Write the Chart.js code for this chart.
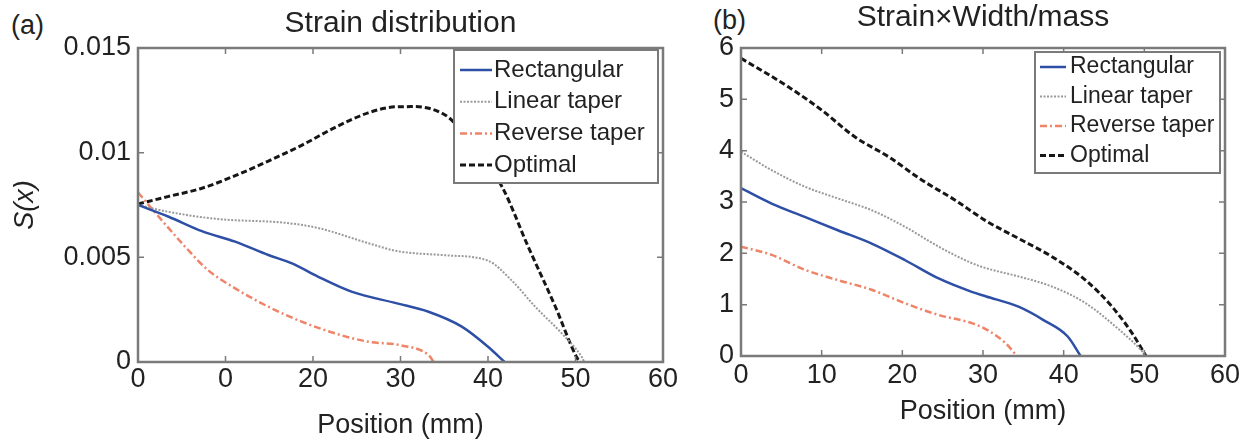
<!DOCTYPE html>
<html>
<head>
<meta charset="utf-8">
<script src="https://cdn.jsdelivr.net/npm/chart.js@4.4.1/dist/chart.umd.min.js"></script>
<style>
  html, body { margin: 0; padding: 0; background: #fff; }
  body { width: 1253px; height: 444px; position: relative; overflow: hidden; font-family: "Liberation Sans", Arial, sans-serif; }
  .panel { position: absolute; top: 0; height: 444px; }
  .tag { position: absolute; font-size: 27px; color: #222; line-height: 1; }
</style>
</head>
<body>
<div class="tag" style="left:11px; top:12px;">(a)</div>
<div class="tag" style="left:713px; top:7px;">(b)</div>
<div class="panel" style="left:0; width:680px;"><canvas id="chartA"></canvas></div>
<div class="panel" style="left:690px; width:563px;"><canvas id="chartB"></canvas></div>

<script>
// ---- data ----
const seriesNames = ["Rectangular", "Linear taper", "Reverse taper", "Optimal"];

// (a) strain distribution S(x)
const rectPosA = [0, 3.5, 7.3, 11.1, 14.9, 17.6, 20.6, 24.4, 29.6, 33.2, 37, 40, 41.9];
const rectStrainA = [0.0075, 0.00694, 0.00625, 0.00575, 0.00511, 0.00471, 0.00407, 0.00336, 0.0028, 0.0024, 0.00169, 0.00073, 0];
const linPosA = [0, 3.4, 9.1, 16.8, 20.6, 26.3, 29.6, 35.1, 40, 42.7, 45.4, 48.4, 50.7, 51];
const linStrainA = [0.0075, 0.00718, 0.00683, 0.00665, 0.0064, 0.00568, 0.0053, 0.0051, 0.00484, 0.0039, 0.00264, 0.00138, 0.00025, 0];
const revPosA = [0, 2.7, 5.4, 8.0, 11.1, 14.9, 18.7, 22.5, 26.3, 30, 33.2, 33.8];
const revStrainA = [0.0081, 0.00678, 0.0055, 0.00439, 0.00352, 0.00264, 0.00193, 0.00137, 0.00097, 0.0008, 0.00033, 0];
const optPosA = [0, 3.4, 7.3, 11.1, 14.9, 18.7, 22.5, 26.3, 29.4, 31.7, 35.1, 36.2, 41.6, 44.6, 47.7, 50.1, 50.5];
const optStrainA = [0.00755, 0.0079, 0.0083, 0.0089, 0.0096, 0.01035, 0.0112, 0.0119, 0.01219, 0.0122, 0.0118, 0.0114, 0.00837, 0.0055, 0.00264, 0.00025, 0];

// (b) strain x width / mass
const rectPosB = [0, 3.8, 7.9, 12, 16.2, 20.3, 24.5, 28.6, 30.4, 34.4, 37.5, 40.5, 42.1];
const rectValB = [3.27, 2.97, 2.71, 2.45, 2.19, 1.87, 1.51, 1.25, 1.16, 0.96, 0.7, 0.38, 0];
const linPosB = [0, 3.8, 7.9, 12, 16.2, 20.3, 24.5, 28.6, 30.4, 34.4, 38.6, 42.7, 46.9, 49.8, 50.2];
const linValB = [3.98, 3.62, 3.3, 3.07, 2.84, 2.52, 2.13, 1.81, 1.71, 1.55, 1.35, 1.03, 0.51, 0.08, 0];
const revPosB = [0, 3.8, 7.9, 12, 16.2, 20.3, 24.5, 28.6, 30.5, 32.8, 34.2];
const revValB = [2.13, 1.97, 1.68, 1.48, 1.29, 1.03, 0.8, 0.64, 0.51, 0.25, 0];
const optPosB = [0, 5.8, 10, 14.1, 18.3, 22.4, 26.5, 30.4, 34.4, 38.6, 42.7, 46, 48.5, 50.2];
const optValB = [5.8, 5.25, 4.79, 4.27, 3.88, 3.43, 3.04, 2.63, 2.29, 1.93, 1.48, 0.96, 0.44, 0];

// tick labels (the reference really prints "0" under 10 in panel a)
const xTickLabelsA = ["0", "0", "20", "30", "40", "50", "60"];
const xTickLabelsB = ["0", "10", "20", "30", "40", "50", "60"];
const yTickLabelsA = ["0", "0.005", "0.01", "0.015"];
const yTickLabelsB = ["0", "1", "2", "3", "4", "5", "6"];

// ---- styling ----
const FONT = '"Liberation Sans", Arial, sans-serif';
Chart.defaults.font.family = FONT;
Chart.defaults.color = "#222";

const lineStyles = [
  { borderColor: "#2d4fa6", borderWidth: 2.5, borderDash: [] },
  { borderColor: "#9a9a9a", borderWidth: 2, borderDash: [2, 1.5] },
  { borderColor: "#ee8468", borderWidth: 2.5, borderDash: [7, 3, 2, 3] },
  { borderColor: "#161616", borderWidth: 3, borderDash: [6, 3] },
];

const toPoints = (xs, ys) => xs.map((x, i) => ({ x: x, y: ys[i] }));

function buildDatasets(pairs) {
  return pairs.map(([xs, ys], i) => ({
    label: seriesNames[i],
    data: toPoints(xs, ys),
    pointRadius: 0,
    fill: false,
    cubicInterpolationMode: "monotone",
    ...lineStyles[i],
  }));
}

// matlab style frame: box on all four sides with ticks pointing inwards
const matlabBox = {
  id: "matlabBox",
  afterDatasetsDraw(chart) {
    const { ctx, chartArea: a, scales } = chart;
    const len = 6;
    ctx.save();
    ctx.strokeStyle = "#7a7a7a";
    ctx.lineWidth = 1.5;
    ctx.beginPath();
    scales.x.ticks.forEach(t => {
      const px = scales.x.getPixelForValue(t.value);
      ctx.moveTo(px, a.bottom); ctx.lineTo(px, a.bottom - len);
      ctx.moveTo(px, a.top); ctx.lineTo(px, a.top + len);
    });
    scales.y.ticks.forEach(t => {
      const py = scales.y.getPixelForValue(t.value);
      ctx.moveTo(a.left, py); ctx.lineTo(a.left + len, py);
      ctx.moveTo(a.right, py); ctx.lineTo(a.right - len, py);
    });
    ctx.stroke();
    ctx.lineWidth = 2.5;
    ctx.strokeRect(a.left, a.top, a.right - a.left, a.bottom - a.top);
    ctx.restore();
  },
};

// legend drawn inside the plot, with white fill and grey frame
const boxLegend = {
  id: "boxLegend",
  afterDraw(chart, args, opts) {
    const { ctx } = chart;
    ctx.save();
    ctx.fillStyle = "#fff";
    ctx.fillRect(opts.x, opts.y, opts.w, opts.h);
    ctx.strokeStyle = "#7a7a7a";
    ctx.lineWidth = 2;
    ctx.strokeRect(opts.x, opts.y, opts.w, opts.h);
    ctx.font = opts.fontSize + "px " + FONT;
    ctx.textBaseline = "middle";
    chart.data.datasets.forEach((ds, i) => {
      const y = opts.rowY + i * opts.rowGap;
      ctx.strokeStyle = ds.borderColor;
      ctx.lineWidth = ds.borderWidth;
      ctx.setLineDash(ds.borderDash || []);
      ctx.beginPath();
      ctx.moveTo(opts.sampleX0, y);
      ctx.lineTo(opts.sampleX1, y);
      ctx.stroke();
      ctx.setLineDash([]);
      ctx.fillStyle = "#222";
      ctx.fillText(ds.label, opts.textX, y);
    });
    ctx.restore();
  },
};

function makeChart(id, cfg) {
  return new Chart(document.getElementById(id), {
    type: "line",
    data: { datasets: buildDatasets(cfg.pairs) },
    options: {
      responsive: true,
      maintainAspectRatio: false,
      animation: false,
      layout: { padding: { left: 0, top: 0, bottom: 0, right: cfg.padRight } },
      plugins: {
        legend: { display: false },
        tooltip: { enabled: false },
        title: {
          display: true,
          text: cfg.title,
          fullSize: false,
          color: "#222",
          font: { size: 30, weight: "normal", lineHeight: 1.2 },
          padding: cfg.titlePad,
        },
        boxLegend: cfg.legend,
      },
      scales: {
        x: {
          type: "linear",
          min: 0,
          max: 60,
          grid: { display: false, drawTicks: false },
          border: { display: false },
          ticks: {
            stepSize: 10,
            autoSkip: false,
            maxRotation: 0,
            padding: cfg.xTickPad,
            color: "#222",
            font: { size: 27 },
            callback: (v, i) => cfg.xLabels[i],
          },
          title: {
            display: true,
            text: "Position (mm)",
            color: "#222",
            font: { size: 27, lineHeight: 1.2 },
            padding: { top: 0, bottom: cfg.xTitlePad },
          },
          afterFit: s => { s.height = cfg.xHeight; s.paddingLeft = 0; s.paddingRight = 0; },
        },
        y: {
          type: "linear",
          min: 0,
          max: cfg.yMax,
          grid: { display: false, drawTicks: false },
          border: { display: false },
          ticks: {
            stepSize: cfg.yStep,
            autoSkip: false,
            padding: 7,
            color: "#222",
            font: { size: 27 },
            callback: (v, i) => cfg.yLabels[i],
          },
          title: cfg.yTitle,
          afterFit: s => { s.width = cfg.yWidth; s.paddingTop = 0; s.paddingBottom = 0; },
        },
      },
    },
    plugins: [matlabBox, boxLegend],
  });
}

makeChart("chartA", {
  pairs: [[rectPosA, rectStrainA], [linPosA, linStrainA], [revPosA, revStrainA], [optPosA, optStrainA]],
  title: "Strain distribution",
  titlePad: { top: 6, bottom: 6 },
  padRight: 17,
  xHeight: 82,
  xTickPad: 1,
  xTitlePad: 2,
  xLabels: xTickLabelsA,
  yMax: 0.015,
  yStep: 0.005,
  yLabels: yTickLabelsA,
  yWidth: 138,
  yTitle: { display: true, text: "S(x)", color: "#222", font: { size: 27, style: "italic", lineHeight: 1.2 }, padding: { top: 9, bottom: 0 } },
  legend: { x: 454, y: 50, w: 204, h: 133, rowY: 70, rowGap: 31.7, sampleX0: 460, sampleX1: 492, textX: 494, fontSize: 24 },
});

makeChart("chartB", {
  pairs: [[rectPosB, rectValB], [linPosB, linValB], [revPosB, revValB], [optPosB, optValB]],
  title: "Strain\u00d7Width/mass",
  titlePad: { top: 0, bottom: 12 },
  padRight: 28,
  xHeight: 88,
  xTickPad: 3,
  xTitlePad: 16,
  xLabels: xTickLabelsB,
  yMax: 6,
  yStep: 1,
  yLabels: yTickLabelsB,
  yWidth: 51,
  yTitle: { display: false },
  legend: { x: 345, y: 52, w: 185, h: 121, rowY: 67, rowGap: 29.5, sampleX0: 350, sampleX1: 376, textX: 380, fontSize: 23 },
});
</script>
</body>
</html>
